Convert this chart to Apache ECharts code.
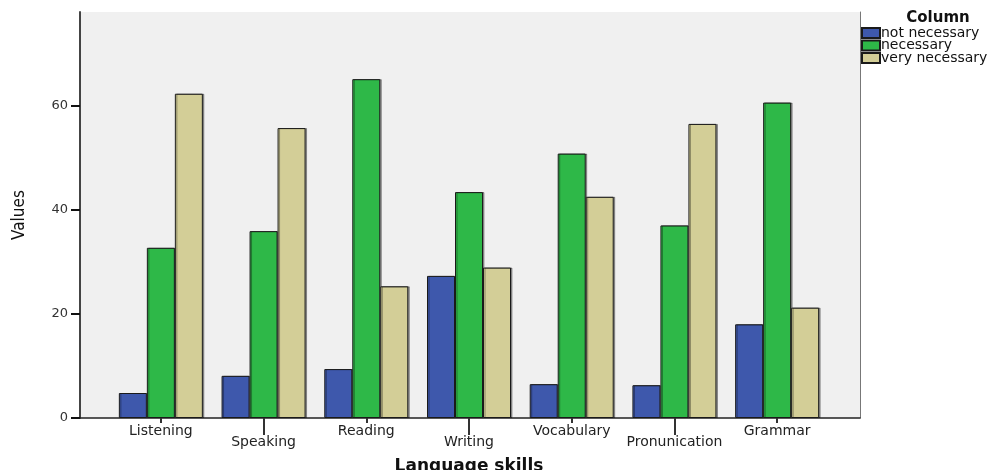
<!DOCTYPE html>
<html>
<head>
<meta charset="utf-8">
<script src="https://cdn.jsdelivr.net/npm/echarts@6/dist/echarts.min.js"></script>
<style>
html,body{margin:0;padding:0;background:#fff;}
#chart{width:1007px;height:470px;}
</style>
</head>
<body>
<div id="chart"></div>
<script>
var categories = ['Listening', 'Speaking', 'Reading', 'Writing', 'Vocabulary', 'Pronunication', 'Grammar'];
var notNecessary = [4.8, 8.1, 9.4, 27.3, 6.5, 6.3, 18.0];
var necessary = [32.7, 35.9, 65.1, 43.4, 50.8, 37.0, 60.6];
var veryNecessary = [62.3, 55.7, 25.3, 28.9, 42.5, 56.5, 21.2];
var yTicks = [0, 20, 40, 60];
var seriesNames = ['not necessary', 'necessary', 'very necessary'];
var seriesColors = ['#3e58ac', '#2eb848', '#d3ce97'];

var chart = echarts.init(document.getElementById('chart'));
var values = [notNecessary, necessary, veryNecessary];
var font = 'DejaVu Sans';

chart.setOption({
  animation: false,
  title: {
    text: 'Column', left: 938, top: 11, textAlign: 'center', padding: 0,
    textStyle: {fontFamily: font, fontWeight: 'bold', fontSize: 15, color: '#111'}
  },
  legend: {
    data: seriesNames, orient: 'vertical', left: 861, top: 26,
    itemWidth: 18, itemHeight: 10, itemGap: -1.5, icon: 'rect', padding: 0,
    textStyle: {fontFamily: font, fontSize: 14, lineHeight: 11, color: '#111', padding: [0, 0, 0, -4]}
  },
  grid: [
    {left: 80, top: 12, width: 780, height: 406, show: true, backgroundColor: '#f0f0f0', borderWidth: 0,
     outerBoundsMode: 'none', containLabel: false},
    {left: 109.5, top: 12, width: 719, height: 406, outerBoundsMode: 'none', containLabel: false}
  ],
  xAxis: [
    {gridIndex: 0, type: 'value', min: 0, max: 1, position: 'bottom',
     axisLine: {show: true, lineStyle: {color: '#222', width: 1.5}},
     axisTick: {show: false}, axisLabel: {show: false}, splitLine: {show: false}},
    {gridIndex: 1, type: 'category', data: categories, position: 'bottom', axisLine: {show: false},
     axisTick: {show: true, alignWithLabel: true, length: 5, lineStyle: {color: '#333', width: 2},
       interval: function (i) { return i % 2 === 0; }},
     axisLabel: {interval: 0, margin: 7.5, lineHeight: 11, fontFamily: font, fontSize: 14, color: '#222',
       formatter: function (v, i) { return i % 2 ? '\n' + v : v; }},
     name: 'Language skills', nameLocation: 'middle', nameGap: 40,
     nameTextStyle: {fontFamily: font, fontWeight: 'bold', fontSize: 17, color: '#111'}},
    {gridIndex: 1, type: 'category', data: categories, position: 'bottom', axisLine: {show: false},
     axisLabel: {show: false},
     axisTick: {show: true, alignWithLabel: true, length: 17, lineStyle: {color: '#333', width: 2},
       interval: function (i) { return i % 2 === 1; }}}
  ],
  yAxis: [
    {gridIndex: 0, type: 'value', min: 0, max: 78, interval: 20, position: 'left',
     axisLine: {show: true, lineStyle: {color: '#444', width: 2}},
     axisTick: {show: true, inside: false, length: 9, lineStyle: {color: '#111', width: 2}},
     axisLabel: {showMaxLabel: false, margin: 12, fontFamily: font, fontSize: 13, color: '#333',
       formatter: function (v) { return yTicks.indexOf(v) >= 0 ? String(v) : ''; }},
     splitLine: {show: false},
     name: 'Values', nameLocation: 'middle', nameGap: 52,
     nameTextStyle: {fontFamily: 'DejaVu Sans Condensed, Liberation Sans', fontSize: 17, color: '#111'}},
    {gridIndex: 0, type: 'value', min: 0, max: 78, position: 'right',
     axisLine: {show: true, lineStyle: {color: '#777', width: 1}},
     axisTick: {show: false}, axisLabel: {show: false}, splitLine: {show: false}},
    {gridIndex: 1, type: 'value', min: 0, max: 78, show: false}
  ],
  series: seriesNames.map(function (name, k) {
    return {
      name: name, type: 'bar', xAxisIndex: 1, yAxisIndex: 2,
      data: values[k], barWidth: 28, barGap: '0%',
      itemStyle: {color: seriesColors[k], borderColor: '#1a1a1a', borderWidth: 1,
        shadowColor: 'rgba(0,0,0,0.35)', shadowOffsetX: 1.5, shadowBlur: 0}
    };
  })
});
</script>
</body>
</html>
